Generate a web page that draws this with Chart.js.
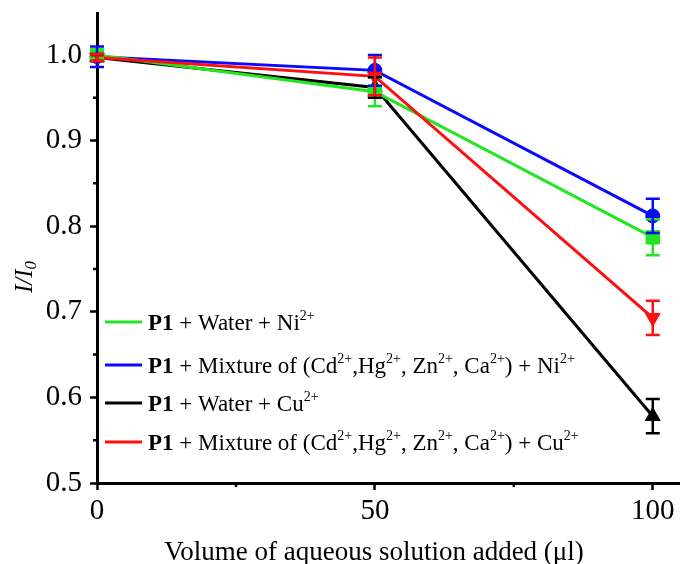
<!DOCTYPE html>
<html>
<head>
<meta charset="utf-8">
<script src="https://cdn.jsdelivr.net/npm/chart.js@4.4.1/dist/chart.umd.min.js"></script>
<style>
  html, body { margin: 0; padding: 0; background: #ffffff; }
  #wrap { width: 680px; height: 564px; }
</style>
</head>
<body>
<div id="wrap"><canvas id="c" width="680" height="564"></canvas></div>
<script>
// Volume of aqueous solution added (µl)
const volumes = [0, 50, 100];

// Relative intensity I/I0 and error for each series
const niWater = [1.000, 0.957, 0.787];
const niWaterErr = [0.004, 0.017, 0.021];
const niMix = [0.998, 0.982, 0.812];
const niMixErr = [0.012, 0.018, 0.020];
const cuWater = [0.997, 0.962, 0.578];
const cuWaterErr = [0.004, 0.012, 0.020];
const cuMix = [0.997, 0.975, 0.693];
const cuMixErr = [0.004, 0.022, 0.020];

const xTickValues = [0, 50, 100];
const xMinorTicks = [25, 75];
const yTickValues = [0.5, 0.6, 0.7, 0.8, 0.9, 1.0];
const yMinorTicks = [0.55, 0.65, 0.75, 0.85, 0.95];

// Legend text, split into runs: bold "P1", plain text and superscript charges
const legendNiWater = [['P1', 'b'], [' + Water + Ni', ''], ['2+', 's']];
const legendNiMix = [['P1', 'b'], [' + Mixture of (Cd', ''], ['2+', 's'], [',Hg', ''], ['2+', 's'],
  [', Zn', ''], ['2+', 's'], [', Ca', ''], ['2+', 's'], [') + Ni', ''], ['2+', 's']];
const legendCuWater = [['P1', 'b'], [' + Water + Cu', ''], ['2+', 's']];
const legendCuMix = [['P1', 'b'], [' + Mixture of (Cd', ''], ['2+', 's'], [',Hg', ''], ['2+', 's'],
  [', Zn', ''], ['2+', 's'], [', Ca', ''], ['2+', 's'], [') + Cu', ''], ['2+', 's']];

const SERIF = '"Liberation Serif", "Times New Roman", serif';
const GREEN = '#22e622';
const BLUE = '#0a0aff';
const BLACK = '#000000';
const RED = '#ff1010';

function series(values, errs, color, style, radius, rotation, runs, order) {
  return {
    data: values.map((v, i) => ({ x: volumes[i], y: v, err: errs[i] })),
    borderColor: color,
    backgroundColor: color,
    borderWidth: 3,
    pointStyle: style,
    pointRadius: radius,
    pointHoverRadius: radius,
    pointRotation: rotation,
    pointBorderWidth: 1,
    pointBorderColor: color,
    pointBackgroundColor: color,
    tension: 0,
    clip: false,
    order: order,
    legendRuns: runs
  };
}

// Vertical error bars with caps, drawn through the scales
const errorBars = {
  id: 'errorBars',
  afterDatasetsDraw(chart) {
    const ctx = chart.ctx;
    const ys = chart.scales.y;
    chart.data.datasets.forEach((ds, i) => {
      const meta = chart.getDatasetMeta(i);
      ctx.save();
      ctx.strokeStyle = ds.borderColor;
      ctx.lineWidth = 2.5;
      meta.data.forEach((pt, j) => {
        const d = ds.data[j];
        const top = ys.getPixelForValue(d.y + d.err);
        const bot = ys.getPixelForValue(d.y - d.err);
        const x = pt.x;
        ctx.beginPath();
        ctx.moveTo(x, top); ctx.lineTo(x, bot);
        ctx.moveTo(x - 7, top); ctx.lineTo(x + 7, top);
        ctx.moveTo(x - 7, bot); ctx.lineTo(x + 7, bot);
        ctx.stroke();
      });
      ctx.restore();
    });
  }
};

// Minor ticks, axis titles and the rich-text legend
const decorations = {
  id: 'decorations',
  afterDraw(chart) {
    const ctx = chart.ctx;
    const xs = chart.scales.x;
    const ys = chart.scales.y;
    const area = chart.chartArea;
    ctx.save();
    ctx.strokeStyle = '#000';
    ctx.lineWidth = 2.5;
    ctx.beginPath();
    xMinorTicks.forEach(v => {
      const px = xs.getPixelForValue(v);
      ctx.moveTo(px, area.bottom); ctx.lineTo(px, area.bottom + 4);
    });
    yMinorTicks.forEach(v => {
      const py = ys.getPixelForValue(v);
      ctx.moveTo(area.left, py); ctx.lineTo(area.left - 4, py);
    });
    ctx.stroke();

    // x-axis title
    ctx.fillStyle = '#000';
    ctx.font = '27px ' + SERIF;
    ctx.textAlign = 'center';
    ctx.textBaseline = 'alphabetic';
    ctx.fillText('Volume of aqueous solution added (\u03bcl)', 374, 560);

    // y-axis title: I/I0 (italic, subscript 0)
    ctx.save();
    ctx.translate(24, 277);
    ctx.rotate(-Math.PI / 2);
    const main = 'I/I';
    ctx.font = 'italic 25px ' + SERIF;
    const w1 = ctx.measureText(main).width;
    ctx.font = 'italic 17px ' + SERIF;
    const w2 = ctx.measureText('0').width;
    const start = -(w1 + w2) / 2;
    ctx.textAlign = 'left';
    ctx.textBaseline = 'alphabetic';
    ctx.font = 'italic 25px ' + SERIF;
    ctx.fillText(main, start, 8);
    ctx.font = 'italic 17px ' + SERIF;
    ctx.fillText('0', start + w1, 12);
    ctx.restore();

    // legend
    const rowsY = [322, 365, 403, 442];
    chart.data.datasets.forEach((ds, i) => {
      const y = rowsY[i];
      ctx.strokeStyle = ds.borderColor;
      ctx.lineWidth = 3;
      ctx.beginPath();
      ctx.moveTo(105, y); ctx.lineTo(142, y);
      ctx.stroke();
      Chart.helpers.drawPoint(ctx, {
        pointStyle: ds.pointStyle,
        rotation: ds.pointRotation,
        borderWidth: 1
      }, 123.5, y, ds.pointRadius * 0.88);
      ctx.fillStyle = ds.borderColor;
      ctx.fill();
      let x = 148;
      ctx.fillStyle = '#000';
      ctx.textAlign = 'left';
      ctx.textBaseline = 'alphabetic';
      ds.legendRuns.forEach(([t, kind]) => {
        if (kind === 'b') ctx.font = 'bold 23px ' + SERIF;
        else if (kind === 's') ctx.font = '14px ' + SERIF;
        else ctx.font = '23px ' + SERIF;
        const dy = kind === 's' ? -10 : 0;
        ctx.fillText(t, x, y + 8 + dy);
        x += ctx.measureText(t).width;
      });
    });
    ctx.restore();
  }
};

const datasets = [
  series(niWater, niWaterErr, GREEN, 'rect', 9.5, 0, legendNiWater, 2),
  series(niMix, niMixErr, BLUE, 'circle', 7, 0, legendNiMix, 3),
  series(cuWater, cuWaterErr, BLACK, 'triangle', 8.5, 0, legendCuWater, 4),
  series(cuMix, cuMixErr, RED, 'triangle', 8.5, 180, legendCuMix, 1)
];

new Chart(document.getElementById('c'), {
  type: 'line',
  data: { datasets },
  plugins: [errorBars, decorations],
  options: {
    responsive: false,
    animation: false,
    events: [],
    layout: { autoPadding: false, padding: { left: 0, right: 0, top: 13, bottom: 0 } },
    plugins: { legend: { display: false }, tooltip: { enabled: false } },
    scales: {
      x: {
        type: 'linear',
        min: 0,
        max: 104.9,
        afterFit(scale) {
          scale.height = 81;
          scale.paddingLeft = 0;
          scale.paddingRight = 0;
        },
        afterBuildTicks(scale) { scale.ticks = xTickValues.map(v => ({ value: v })); },
        ticks: {
          color: '#000',
          font: { family: SERIF, size: 29 },
          padding: 4,
          maxRotation: 0
        },
        grid: { display: true, drawOnChartArea: false, drawTicks: true, tickLength: 7, tickWidth: 2.5, color: '#000' },
        border: { display: true, color: '#000', width: 3 }
      },
      y: {
        type: 'linear',
        min: 0.5,
        max: 1.049,
        z: 1,
        afterFit(scale) {
          scale.width = 97;
          scale.paddingTop = 0;
          scale.paddingBottom = 0;
        },
        afterBuildTicks(scale) { scale.ticks = yTickValues.map(v => ({ value: v })); },
        ticks: {
          color: '#000',
          font: { family: SERIF, size: 29 },
          padding: 8,
          callback: v => Number(v).toFixed(1)
        },
        grid: { display: true, drawOnChartArea: false, drawTicks: true, tickLength: 7, tickWidth: 2.5, color: '#000' },
        border: { display: true, color: '#000', width: 3 }
      }
    }
  }
});
</script>
</body>
</html>
